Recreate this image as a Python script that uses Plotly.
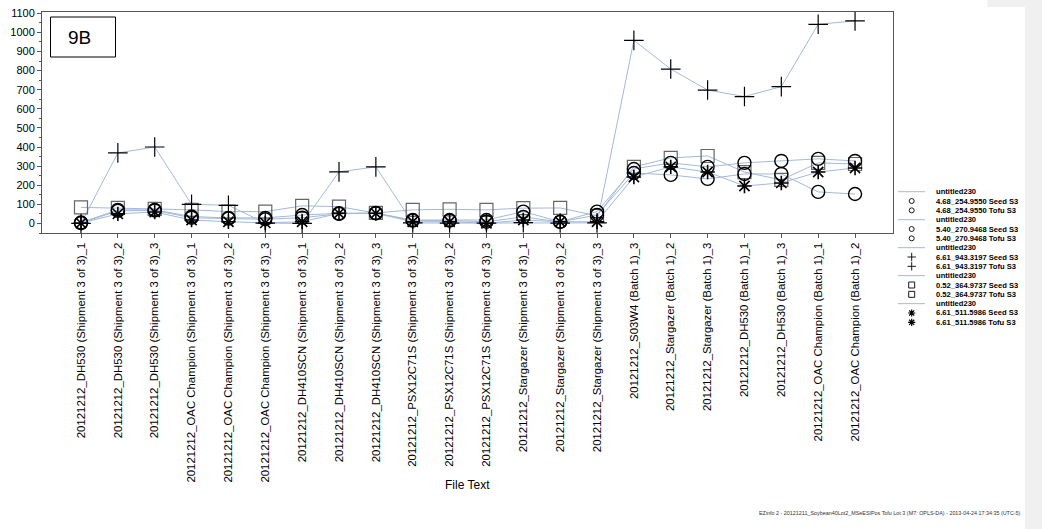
import plotly.graph_objects as go

W, H = 1042, 529

categories = [
    "20121212_DH530 (Shipment 3 of 3)_1",
    "20121212_DH530 (Shipment 3 of 3)_2",
    "20121212_DH530 (Shipment 3 of 3)_3",
    "20121212_OAC Champion (Shipment 3 of 3)_1",
    "20121212_OAC Champion (Shipment 3 of 3)_2",
    "20121212_OAC Champion (Shipment 3 of 3)_3",
    "20121212_DH410SCN (Shipment 3 of 3)_1",
    "20121212_DH410SCN (Shipment 3 of 3)_2",
    "20121212_DH410SCN (Shipment 3 of 3)_3",
    "20121212_PSX12C71S (Shipment 3 of 3)_1",
    "20121212_PSX12C71S (Shipment 3 of 3)_2",
    "20121212_PSX12C71S (Shipment 3 of 3)_3",
    "20121212_Stargazer (Shipment 3 of 3)_1",
    "20121212_Stargazer (Shipment 3 of 3)_2",
    "20121212_Stargazer (Shipment 3 of 3)_3",
    "20121212_S03W4 (Batch 1)_3",
    "20121212_Stargazer (Batch 1)_2",
    "20121212_Stargazer (Batch 1)_3",
    "20121212_DH530 (Batch 1)_1",
    "20121212_DH530 (Batch 1)_3",
    "20121212_OAC Champion (Batch 1)_1",
    "20121212_OAC Champion (Batch 1)_2",
]

# Response of each variable across the samples
v_468_254 = [5, 71, 71, 36, 29, 29, 44, 53, 53, 18, 18, 18, 62, 9, 62,
             285, 317, 296, 317, 327, 338, 327]
v_540_270 = [2, 66, 68, 30, 25, 22, 30, 50, 55, 15, 15, 9, 34, 8, 44,
             264, 254, 233, 259, 259, 165, 154]
v_661_943 = [0, 369, 400, 100, 95, 2, 0, 270, 296, 3, 2, 2, 4, 2, 3,
             958, 808, 698, 664, 716, 1042, 1060]
v_052_364 = [84, 81, 76, 71, 62, 62, 92, 88, 55, 71, 74, 71, 80, 81, 40,
             296, 343, 353, 269, 228, 317, 311]
v_661_511 = [2, 50, 60, 18, 9, 3, 9, 53, 53, 9, 9, 1, 18, 9, 9,
             243, 296, 269, 196, 212, 269, 290]

variable_names = ["4.68_254.9550", "5.40_270.9468", "6.61_943.3197",
                  "0.52_364.9737", "6.61_511.5986"]
series_values = [v_468_254, v_540_270, v_661_943, v_052_364, v_661_511]
sample_groups = ["Seed S3", "Tofu S3"]

LINE_BLUE = "#a3b9da"
FONT = "Arial, 'Liberation Sans', sans-serif"

marker_styles = [
    dict(symbol="circle-open", size=13, color="black", line=dict(width=1.4, color="black")),
    dict(symbol="circle-open", size=13, color="black", line=dict(width=1.4, color="black")),
    dict(symbol="cross-thin-open", size=14, color="black", line=dict(width=1.2, color="black")),
    dict(symbol="square-open", size=13, color="#666666", line=dict(width=1.2, color="#666666")),
    dict(symbol="asterisk-open", size=12, color="black", line=dict(width=1.6, color="black")),
]
legend_marker_styles = [
    dict(symbol="circle-open", size=5, color="black", line=dict(width=0.9, color="black")),
    dict(symbol="circle-open", size=5, color="black", line=dict(width=0.9, color="black")),
    dict(symbol="cross-thin-open", size=6, color="black", line=dict(width=0.9, color="black")),
    dict(symbol="square-open", size=6, color="black", line=dict(width=0.9, color="black")),
    dict(symbol="asterisk-open", size=6, color="black", line=dict(width=1.2, color="black")),
]

# Batch 1 samples are seed, shipment samples are tofu
def group_of(cat):
    return "Seed S3" if "Batch" in cat else "Tofu S3"

fig = go.Figure()

for name, vals in zip(variable_names, series_values):
    fig.add_trace(go.Scatter(x=categories, y=vals, mode="lines",
                             line=dict(color=LINE_BLUE, width=1),
                             name="untitled230", showlegend=False, hoverinfo="skip"))

draw_order = [3, 0, 1, 2, 4]
for k in draw_order:
    vals = series_values[k]
    for grp in sample_groups:
        xs = [c for c in categories if group_of(c) == grp]
        ys = [v for c, v in zip(categories, vals) if group_of(c) == grp]
        fig.add_trace(go.Scatter(x=xs, y=ys, mode="markers", marker=marker_styles[k],
                                 name=f"{variable_names[k]} {grp}", showlegend=False))

# Legend, laid out on a full-page helper axis measured in pixels
row_y0, row_dy = 191.7, 9.33
legend_text_x, legend_marker_x = 934, 911.7
LEGEND_FONT = dict(family=FONT, size=7.6, color="black")
annotations = []
for k, name in enumerate(variable_names):
    base = row_y0 + 3 * k * row_dy
    fig.add_trace(go.Scatter(x=[898, 925], y=[base, base], xaxis="x2", yaxis="y2",
                             mode="lines", line=dict(color=LINE_BLUE, width=1),
                             showlegend=False, hoverinfo="skip"))
    annotations.append(dict(x=legend_text_x, y=base, xref="x2", yref="y2", text="<b>untitled230</b>",
                            showarrow=False, xanchor="left", yanchor="middle", font=LEGEND_FONT))
    ys = []
    for j, grp in enumerate(sample_groups):
        y = base + (j + 1) * row_dy
        ys.append(y)
        annotations.append(dict(x=legend_text_x, y=y, xref="x2", yref="y2",
                                text=f"<b>{name} {grp}</b>", showarrow=False,
                                xanchor="left", yanchor="middle", font=LEGEND_FONT))
    fig.add_trace(go.Scatter(x=[legend_marker_x] * 2, y=ys, xaxis="x2", yaxis="y2",
                             mode="markers", marker=legend_marker_styles[k],
                             showlegend=False, hoverinfo="skip"))

annotations += [
    dict(x=66, y=37.5, xref="x2", yref="y2", text="9B", showarrow=False,
         xanchor="left", yanchor="middle", font=dict(family=FONT, size=19, color="black")),
    dict(x=467.5, y=485, xref="x2", yref="y2", text="File Text", showarrow=False,
         xanchor="center", yanchor="middle", font=dict(family=FONT, size=12, color="black")),
    dict(x=1023, y=513, xref="x2", yref="y2",
         text="EZinfo 2 - 20121211_Soybean40Lot2_MSeESIPos Tofu Lot 3 (M7: OPLS-DA) - 2013-04-24 17:34:35 (UTC-5)",
         showarrow=False, xanchor="right", yanchor="middle",
         font=dict(family=FONT, size=5.4, color="#333333")),
]

shapes = [
    dict(type="rect", xref="x2", yref="y2", x0=1025, x1=1042, y0=7, y1=529,
         fillcolor="#f0f0f0", line=dict(width=0), layer="above"),
    dict(type="rect", xref="x2", yref="y2", x0=987.5, x1=1042, y0=0, y1=7,
         fillcolor="#f0f0f0", line=dict(width=0), layer="above"),
    dict(type="rect", xref="x2", yref="y2", x0=50.5, x1=115.5, y0=17, y1=57,
         fillcolor="rgba(0,0,0,0)", line=dict(width=1, color="black")),
]

PLOT_L, PLOT_R, PLOT_T, PLOT_B = 42, 893, 11.5, 233

fig.update_layout(
    template="none",
    width=W, height=H,
    margin=dict(l=0, r=0, t=0, b=0, pad=0),
    paper_bgcolor="white",
    plot_bgcolor="rgba(0,0,0,0)",
    showlegend=False,
    font=dict(family=FONT, size=12, color="black"),
    xaxis=dict(
        domain=[PLOT_L / W, PLOT_R / W],
        type="category", range=[-1.058, 22.03],
        tickangle=-90, ticks="outside", ticklen=4, tickcolor="#555555",
        showline=True, linecolor="#555555", linewidth=1, mirror=True,
        showgrid=False, zeroline=False,
        tickfont=dict(family=FONT, size=11.4, color="black"),
    ),
    yaxis=dict(
        domain=[1 - PLOT_B / H, 1 - PLOT_T / H],
        range=[-50, 1109], tick0=0, dtick=100,
        ticks="outside", ticklen=4, tickcolor="#555555",
        minor=dict(ticks="outside", ticklen=2, dtick=50, tick0=0, tickcolor="#555555", showgrid=False),
        showline=True, linecolor="#555555", linewidth=1, mirror=True,
        showgrid=False, zeroline=False,
        tickfont=dict(family=FONT, size=11, color="black"),
    ),
    xaxis2=dict(domain=[0, 1], range=[0, W], visible=False, anchor="y2"),
    yaxis2=dict(domain=[0, 1], range=[H, 0], visible=False, anchor="x2"),
    annotations=annotations,
    shapes=shapes,
)

fig.write_html("out.html")
